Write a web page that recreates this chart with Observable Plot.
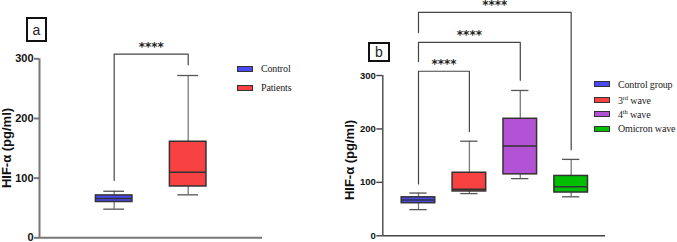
<!DOCTYPE html>
<html>
<head>
<meta charset="utf-8">
<script src="https://cdn.jsdelivr.net/npm/d3@7"></script>
<script src="https://cdn.jsdelivr.net/npm/@observablehq/plot@0.6"></script>
<style>
  html, body { margin: 0; padding: 0; background: #fff; }
  #root { position: relative; width: 677px; height: 242px; overflow: hidden; font-family: "Liberation Sans", Arial, sans-serif; }
  .panel { position: absolute; top: 0; }
  .tag { position: absolute; box-sizing: border-box; border: 2px solid #111; display: flex; align-items: center; justify-content: center; font-size: 14px; color: #222; background: #fff; }
  .ylab { position: absolute; font-weight: bold; font-size: 13px; white-space: nowrap; transform: translate(-50%, -50%) rotate(-90deg); color: #111; }
  .leg { position: absolute; display: flex; align-items: center; height: 14px; font-family: "Liberation Serif", "Times New Roman", serif; font-size: 10px; letter-spacing: -0.15px; color: #222; white-space: nowrap; }
  .sw { box-sizing: border-box; width: 16px; height: 6px; border: 1px solid #333; margin-right: 8px; }
  sup { font-size: 6.5px; line-height: 0; }
</style>
</head>
<body>
<div id="root"></div>
<script>
// ---------- Data: panel a ----------
const groupsA = ["Control", "Patients"];
const minA = [48, 72];
const q1A  = [60, 86];
const medA = [66, 110];
const q3A  = [71, 161];
const maxA = [78, 272];
const colorsA = ["#4a4af0", "#f84242"];

// significance bracket (panel a)
const brFromA = [0];
const brToA = [1];
const brTopA = [308];
const brLeftEndA = [96];
const brRightEndA = [290];
const brLabelA = ["****"];

// ---------- Data: panel b ----------
const groupsB = ["Control group", "3rd wave", "4th wave", "Omicron wave"];
const groupsBHtml = ["Control group", "3<sup>rd</sup> wave", "4<sup>th</sup> wave", "Omicron wave"];
const minB = [49, 79, 107, 73];
const q1B  = [61, 83, 115, 81];
const medB = [67, 87, 168, 92];
const q3B  = [72, 118, 219, 112];
const maxB = [80, 177, 272, 143];
const colorsB = ["#4a4af0", "#f84242", "#b452d6", "#00bf00"];

// significance brackets (panel b)
const brFromB = [0, 0, 0];
const brToB = [1, 2, 3];
const brTopB = [308, 362, 418];
const brLeftEndB = [97, 326, 380];
const brRightEndB = [195, 291, 161];
const brLabelB = ["****", "****", "****"];

const yTicks = [0, 100, 200, 300];
const yLabel = "HIF-\u03b1 (pg/ml)";

function panel(cfg) {
  const rows = cfg.groups.map((g, i) => ({
    i, g, min: cfg.mins[i], q1: cfg.q1s[i], med: cfg.meds[i], q3: cfg.q3s[i], max: cfg.maxs[i], color: cfg.colors[i]
  }));
  const br = cfg.brFrom.map((f, k) => ({
    from: f, to: cfg.brTo[k], top: cfg.brTop[k], l: cfg.brLeft[k], r: cfg.brRight[k], label: cfg.brLabel[k]
  }));
  const brPts = br.flatMap((b, k) => [
    {k, x: b.from, y: b.l}, {k, x: b.from, y: b.top}, {k, x: b.to, y: b.top}, {k, x: b.to, y: b.r}
  ]);
  const h = cfg.half, c = cfg.cap;
  return Plot.plot({
    width: cfg.width,
    height: 242,
    marginLeft: cfg.ml, marginRight: cfg.mr, marginTop: cfg.mt, marginBottom: cfg.mb,
    style: {overflow: "visible", background: "transparent", fontFamily: "Liberation Sans, Arial, sans-serif"},
    x: {domain: cfg.xDomain, axis: null},
    y: {domain: [0, 300]},
    color: {type: "identity"},
    marks: [
      Plot.ruleX(rows, {x: "i", y1: "min", y2: "max", stroke: "#7a7a7a", strokeWidth: 1.3}),
      Plot.ruleY(rows, {y: "min", x1: d => d.i - c, x2: d => d.i + c, stroke: "#555", strokeWidth: 1.3}),
      Plot.ruleY(rows, {y: "max", x1: d => d.i - c, x2: d => d.i + c, stroke: "#555", strokeWidth: 1.3}),
      Plot.rectY(rows, {x1: d => d.i - h, x2: d => d.i + h, y1: "q1", y2: "q3", fill: "color", stroke: "#333", strokeWidth: 1.5}),
      Plot.ruleY(rows, {y: "med", x1: d => d.i - h, x2: d => d.i + h, stroke: "#333", strokeWidth: 1.5}),
      Plot.ruleY([0], {stroke: cfg.axisColor, strokeWidth: cfg.axisWidth}),
      Plot.ruleX([cfg.xDomain[0]], {y1: 0, y2: 300, stroke: cfg.axisColor, strokeWidth: cfg.axisWidth}),
      Plot.axisY({ticks: yTicks, tickSize: cfg.tickSize, tickPadding: 1, label: null, stroke: cfg.axisColor, strokeWidth: cfg.axisWidth,
        fontWeight: "bold", fontSize: cfg.tickFont, fill: "#111"}),
      Plot.line(brPts, {x: "x", y: "y", z: "k", stroke: "#444", strokeWidth: 1.2}),
      Plot.text(br, {x: d => (d.from + d.to) / 2, y: "top", text: "label", lineAnchor: "top", dy: -12, fontWeight: "bold", fontSize: 12,
        fontFamily: "DejaVu Sans", fill: "#222"})
    ]
  });
}

const root = document.getElementById("root");

const a = panel({
  groups: groupsA, mins: minA, q1s: q1A, meds: medA, q3s: q3A, maxs: maxA, colors: colorsA,
  brFrom: brFromA, brTo: brToA, brTop: brTopA, brLeft: brLeftEndA, brRight: brRightEndA, brLabel: brLabelA,
  width: 340, ml: 39, mr: 78, mt: 58.3, mb: 4.7,
  xDomain: [-1.009, 2.004], half: 0.247, cap: 0.14,
  axisColor: "#777", axisWidth: 2, tickSize: 5, tickFont: 11
});
a.classList.add("panel");
a.style.left = "0px";
root.appendChild(a);

const b = panel({
  groups: groupsB, mins: minB, q1s: q1B, meds: medB, q3s: q3B, maxs: maxB, colors: colorsB,
  brFrom: brFromB, brTo: brToB, brTop: brTopB, brLeft: brLeftEndB, brRight: brRightEndB, brLabel: brLabelB,
  width: 337, ml: 42.3, mr: 72, mt: 75, mb: 6.7,
  xDomain: [-0.701, 3.674], half: 0.33, cap: 0.17,
  axisColor: "#444", axisWidth: 1.4, tickSize: 6, tickFont: 9.5
});
b.classList.add("panel");
b.style.left = "340px";
root.appendChild(b);

// panel tags
function tag(text, left, top, w, hgt) {
  const d = document.createElement("div");
  d.className = "tag";
  d.textContent = text;
  Object.assign(d.style, {left: left + "px", top: top + "px", width: w + "px", height: hgt + "px"});
  root.appendChild(d);
}
tag("a", 26, 17, 21, 25);
tag("b", 368, 42, 22, 20);

// y labels
function ylab(x, y) {
  const d = document.createElement("div");
  d.className = "ylab";
  d.textContent = yLabel;
  Object.assign(d.style, {left: x + "px", top: y + "px"});
  root.appendChild(d);
}
ylab(6, 148);
ylab(349, 160);

// legends
function legend(labels, colors, left, centers) {
  labels.forEach((lab, i) => {
    const row = document.createElement("div");
    row.className = "leg";
    row.style.left = left + "px";
    row.style.top = (centers[i] - 7) + "px";
    row.innerHTML = `<div class="sw" style="background:${colors[i]}"></div><span>${lab}</span>`;
    root.appendChild(row);
  });
}
legend(groupsA, colorsA, 237, [68.5, 87.5]);
legend(groupsBHtml, colorsB, 594, [84, 100, 114, 128.5]);
</script>
</body>
</html>
